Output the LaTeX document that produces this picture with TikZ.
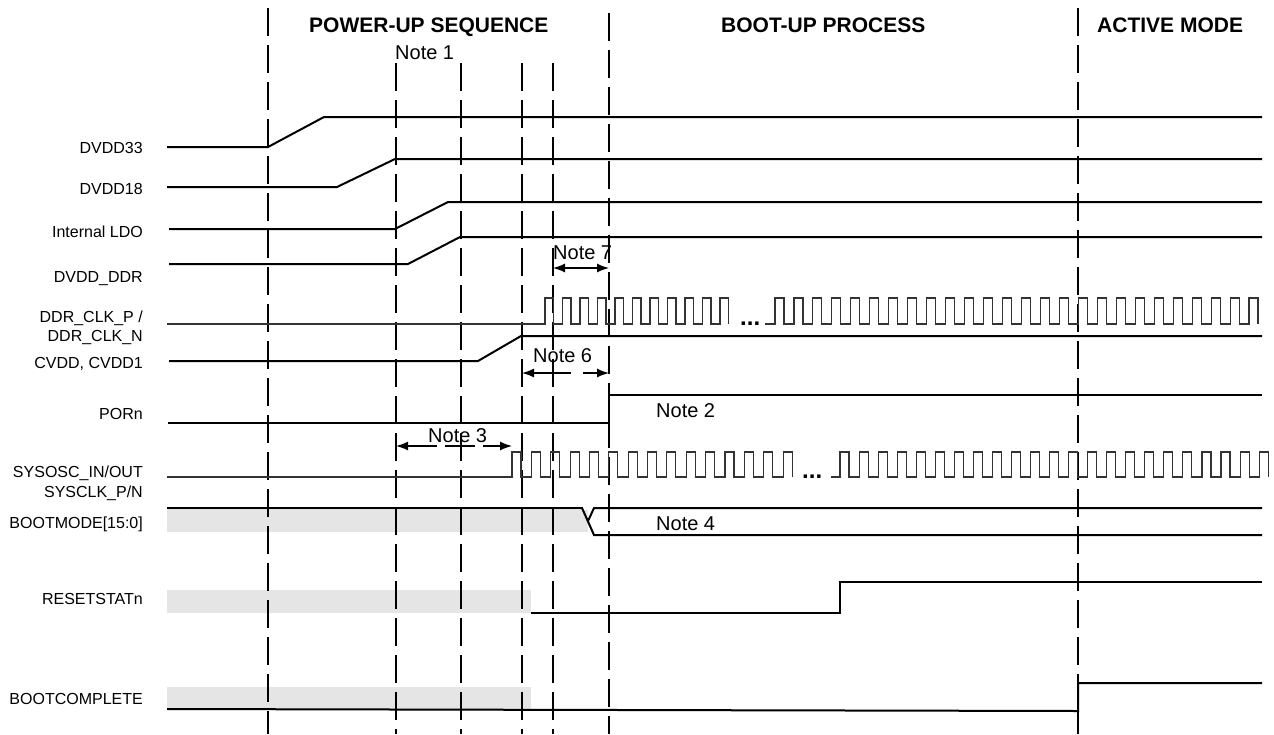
\documentclass[tikz,border=0pt]{standalone}
\usepackage{fontspec}
\setmainfont{Liberation Sans}
\usetikzlibrary{arrows.meta}
\tikzset{
  sig/.style={line width=2pt, black},
  clk/.style={line width=1.1pt, black!80},
  vdash/.style={line width=1.1pt, black, dash pattern=on 28pt off 9pt},
  undef/.style={fill=black!10, draw=none},
  lbl/.style={anchor=base east, inner sep=0pt, font=\fontsize{16}{18}\selectfont},
  note/.style={anchor=base west, inner sep=0pt, font=\fontsize{20}{22}\selectfont},
  head/.style={anchor=base west, inner sep=0pt, font=\fontsize{21}{23}\selectfont\bfseries},
  gap/.style={anchor=base west, inner sep=0pt, font=\fontsize{24}{26}\selectfont\bfseries},
  dim/.style={line width=1.3pt, {Latex[length=12pt,width=9pt]}-{Latex[length=12pt,width=9pt]}},
}
\begin{document}
\begin{tikzpicture}[x=1pt,y=-1pt]
\useasboundingbox (0,0) rectangle (1274,734);
% grey undefined regions
\fill[undef] (167,510) rectangle (588,532);
\fill[undef] (167,590) rectangle (531,613);
\fill[undef] (167,687) rectangle (531,709);
% vertical dashed lines
\draw[vdash] (268,8) -- (268,734);
\draw[vdash] (396,63) -- (396,734);
\draw[vdash] (461,63) -- (461,734);
\draw[vdash] (522,63) -- (522,734);
\draw[vdash] (553,63) -- (553,734);
\draw[vdash] (609,13) -- (609,734);
\draw[vdash] (1078,8) -- (1078,734);
% headers
\node[head] (h1) at (309,32) {POWER-UP SEQUENCE};
\node[head] (h2) at (721,32) {BOOT-UP PROCESS};
\node[head] (h3) at (1097,32) {ACTIVE MODE};
\node[note] (n1) at (395,59) {Note 1};
% labels
\node[lbl] (l1) at (143,153) {DVDD33};
\node[lbl] (l2) at (143,194) {DVDD18};
\node[lbl] (l3) at (143,237) {Internal LDO};
\node[lbl] (l4) at (143,282) {DVDD\_DDR};
\node[lbl] (l5a) at (143,322) {DDR\_CLK\_P /};
\node[lbl] (l5b) at (143,341) {DDR\_CLK\_N};
\node[lbl] (l6) at (143,368) {CVDD, CVDD1};
\node[lbl] (l7) at (143,419) {PORn};
\node[lbl] (l8a) at (143,477) {SYSOSC\_IN/OUT};
\node[lbl] (l8b) at (143,497) {SYSCLK\_P/N};
\node[lbl] (l9) at (143,528) {BOOTMODE[15:0]};
\node[lbl] (l10) at (143,604) {RESETSTATn};
\node[lbl] (l11) at (143,704) {BOOTCOMPLETE};
% power signals
\draw[sig] (167,147) -- (268,147) -- (324,117) -- (1262,117);
\draw[sig] (167,187) -- (337,187) -- (395,159) -- (1262,159);
\draw[sig] (169,229) -- (395,229) -- (448,202) -- (1262,202);
\draw[sig] (169,264) -- (408,264) -- (460,237) -- (1262,237);
\draw[sig] (169,361) -- (478,361) -- (521,336) -- (1262,336);
\draw[sig] (168,423) -- (609,423) -- (609,395) -- (1262,395);
% DDR clock
\draw[clk] (167,324) -- (545,324)
  \foreach \i in {0,...,10}{ -- ({545+\i*17.5},324) -- ++(0,-26) -- ++(8.5,0) -- ++(0,26)};
\draw[clk] (765,324)
  \foreach \i in {0,...,25}{ -- ({775+\i*18.96},324) -- ++(0,-26) -- ++(9,0) -- ++(0,26)};
\node[gap] (d1) at (740,325) {...};
% SYSOSC clock
\draw[clk] (167,477) -- (512,477)
  \foreach \i in {0,...,14}{ -- ({512+\i*19.36},477) -- ++(0,-25) -- ++(9,0) -- ++(0,25)};
\draw[clk] (831,477)
  \foreach \i in {0,...,22}{ -- ({840+\i*19.05},477) -- ++(0,-25) -- ++(9,0) -- ++(0,25)};
\node[gap] (d2) at (802,478) {...};
% BOOTMODE
\draw[sig] (167,508) -- (582,508) -- (594,535) -- (1262,535);
\draw[sig] (588,521) -- (594,508) -- (1262,508);
\node[note] (n4) at (656,530) {Note 4};
% RESETSTATn
\draw[sig] (531,613) -- (840,613) -- (840,582) -- (1262,582);
% BOOTCOMPLETE
\draw[sig] (167,709) -- (1078,711) -- (1078,683) -- (1262,683);
% notes with dimension arrows
\coordinate (a7l) at (553,268); \coordinate (a7r) at (609,268);
\draw[dim] (a7l) -- (a7r);
\node[note] (n7) at (553,259) {Note 7};
\coordinate (a6l) at (522,373); \coordinate (a6r) at (609,373);
\draw[dim, dash pattern=on 38pt off 12pt] (a6l) -- (a6r);
\node[note] (n6) at (533,362) {Note 6};
\node[note] (n2) at (656,417) {Note 2};
\coordinate (a3l) at (396,446); \coordinate (a3r) at (512,446);
\draw[dim, dash pattern=on 30pt off 8pt] (a3l) -- (a3r);
\node[note] (n3) at (428,442) {Note 3};
\end{tikzpicture}
\end{document}
